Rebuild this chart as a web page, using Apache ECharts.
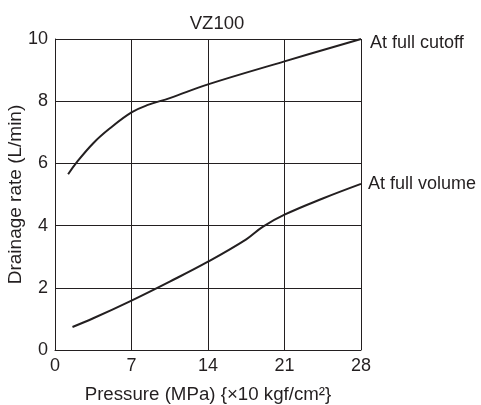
<!DOCTYPE html>
<html><head><meta charset="utf-8">
<script src="https://cdn.jsdelivr.net/npm/echarts@6/dist/echarts.min.js"></script>
<style>html,body{margin:0;padding:0;background:#fff}#c{width:481px;height:405px}</style>
</head><body><div id="c"></div>
<script>
const title = "VZ100";
const xTicks = [0, 7, 14, 21, 28];
const yTicks = [0, 2, 4, 6, 8, 10];
const cutoffP = [1.2, 2, 3.5, 5, 7, 8.5, 10.5, 14, 21, 28];
const cutoffQ = [5.65, 6.04, 6.65, 7.12, 7.64, 7.88, 8.1, 8.54, 9.28, 10];
const volumeP = [1.6, 3.5, 7, 10.5, 14, 17.5, 19, 21, 24.5, 28];
const volumeQ = [0.74, 1.02, 1.59, 2.2, 2.84, 3.56, 3.96, 4.35, 4.87, 5.34];
const seriesNames = ["At full cutoff", "At full volume"];
const FONT = "Liberation Sans, Arial, sans-serif";
const INK = '#231f20';
const chart = echarts.init(document.getElementById('c'), null, {renderer: 'canvas'});
const mk = (p, q) => p.map((v, i) => [v, q[i]]);
chart.setOption({
  animation: false,
  backgroundColor: '#fff',
  title: {text: title, left: 212, top: 9, textAlign: 'center',
    textStyle: {fontFamily: FONT, fontSize: 18.5, fontWeight: 'normal', color: INK}},
  grid: {left: 55, right: 120, top: 39, bottom: 55, containLabel: false, outerBoundsMode: 'none'},
  xAxis: {type: 'value', min: xTicks[0], max: xTicks[xTicks.length-1], interval: 7,
    name: 'Pressure (MPa) {×10 kgf/cm²}', nameLocation: 'middle', nameGap: 35, nameMoveOverlap: false,
    nameTextStyle: {fontFamily: FONT, fontSize: 18.7, color: INK},
    axisLine: {show: true, lineStyle: {color: INK, width: 1}},
    axisTick: {show: false},
    axisLabel: {fontFamily: FONT, fontSize: 18, color: INK, margin: 7},
    splitLine: {show: true, lineStyle: {color: INK, width: 1}}},
  yAxis: {type: 'value', min: yTicks[0], max: yTicks[yTicks.length-1], interval: 2,
    name: 'Drainage rate (L/min)', nameLocation: 'middle', nameGap: 30, nameMoveOverlap: false,
    nameTextStyle: {fontFamily: FONT, fontSize: 19, color: INK},
    axisLine: {show: true, lineStyle: {color: INK, width: 1}},
    axisTick: {show: false},
    axisLabel: {fontFamily: FONT, fontSize: 18, color: INK, margin: 7},
    splitLine: {show: true, lineStyle: {color: INK, width: 1}}},
  series: [
    {name: seriesNames[0], type: 'line', data: mk(cutoffP, cutoffQ), smooth: 0.4,
     showSymbol: false, lineStyle: {color: INK, width: 2},
     endLabel: {show: true, formatter: seriesNames[0], distance: 9, offset: [0, 4],
       fontFamily: FONT, fontSize: 18, color: INK}},
    {name: seriesNames[1], type: 'line', data: mk(volumeP, volumeQ), smooth: 0.4,
     showSymbol: false, lineStyle: {color: INK, width: 2},
     endLabel: {show: true, formatter: seriesNames[1], distance: 7,
       fontFamily: FONT, fontSize: 18, color: INK}}
  ]
});
</script></body></html>
